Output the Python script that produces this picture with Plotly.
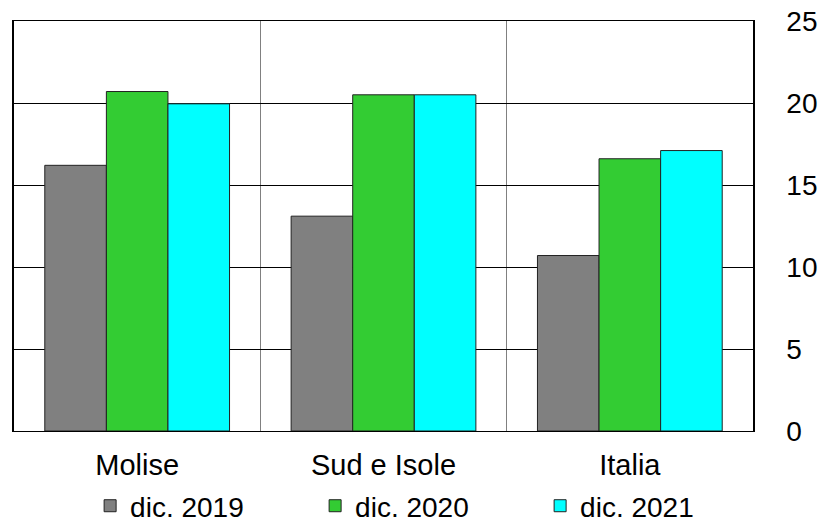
import plotly.graph_objects as go

categories = ["Molise", "Sud e Isole", "Italia"]
series_names = ["dic. 2019", "dic. 2020", "dic. 2021"]
v2019 = [16.2, 13.1, 10.7]
v2020 = [20.7, 20.5, 16.6]
v2021 = [19.95, 20.5, 17.1]
colors = ["#808080", "#33CC33", "#00FFFF"]

fig = go.Figure()
for name, vals, c in zip(series_names, [v2019, v2020, v2021], colors):
    fig.add_trace(go.Bar(x=categories, y=vals, name=name,
                         marker=dict(color=c, line=dict(color="#222222", width=1))))

fig.update_layout(
    width=819, height=523,
    margin=dict(l=14, r=66, t=21, b=92, autoexpand=False),
    paper_bgcolor="white", plot_bgcolor="white",
    barmode="group", bargap=0.25, bargroupgap=0,
    font=dict(family="Liberation Sans, Arial, sans-serif", color="black"),
    showlegend=True,
    legend=dict(orientation="h", x=0.103, xanchor="left", y=-0.183, yanchor="middle",
                font=dict(size=28), itemwidth=30, traceorder="normal",
                entrywidth=180, entrywidthmode="pixels"),
)
fig.update_xaxes(
    tickson="boundaries", showgrid=True, gridcolor="#808080", gridwidth=1,
    showline=True, linecolor="black", linewidth=1, mirror=True,
    tickfont=dict(size=29), automargin=False,
    ticks="", ticklabelstandoff=8,
)
fig.update_yaxes(
    side="right", range=[0, 25], dtick=5, tick0=0,
    showgrid=True, gridcolor="black", gridwidth=1,
    showline=True, linecolor="black", linewidth=1.5, mirror=True,
    tickfont=dict(size=28), ticks="", ticklabelstandoff=26, zeroline=False,
    automargin=False,
)
fig.write_html("out.html", config={"displayModeBar": False},
               post_script="document.body.style.margin='0';")
